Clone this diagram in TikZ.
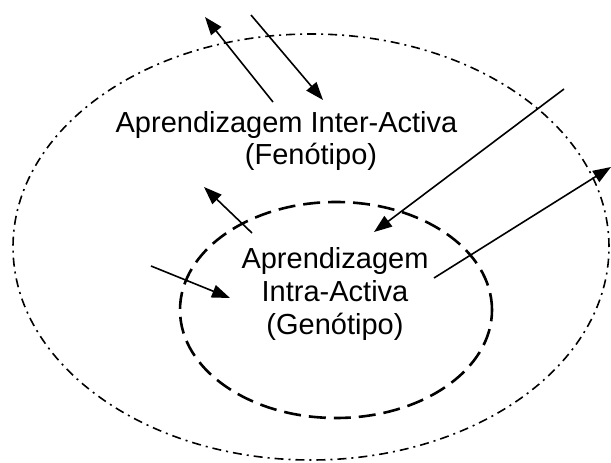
\documentclass[tikz,border=0pt]{standalone}
\usepackage{fontspec}
\setmainfont{Liberation Sans}
\usetikzlibrary{arrows.meta}
\begin{document}
\begin{tikzpicture}[x=1pt,y=-1pt,
        seta/.style={-{Triangle[length=18pt,width=13pt]}, line width=1.6pt},
        rotulo/.style={anchor=base, inner sep=0pt, font=\fontsize{29}{33}\selectfont}]
    \useasboundingbox (0,0) rectangle (611,463);
    % ellipses
    \draw [line width=1.6pt, dash pattern=on 9pt off 5pt on 2pt off 5pt] (311,247) ellipse [x radius=298pt, y radius=213pt];
    \draw [line width=2.6pt, dash pattern=on 17pt off 8pt] (336,310) ellipse [x radius=156pt, y radius=108pt];
    % texts
    \node (inter) [rotulo] at (286.5,132) {Aprendizagem Inter-Activa};
    \node (feno) [rotulo] at (311,164) {(Fenótipo)};
    \node (intraA) [rotulo] at (335,268) {Aprendizagem};
    \node (intraB) [rotulo] at (335,301) {Intra-Activa};
    \node (geno) [rotulo] at (335,334) {(Genótipo)};
    % arrow ends
    \coordinate (sobeA) at (273,102);  \coordinate (sobeB) at (205,17);
    \coordinate (desceA) at (251,15);  \coordinate (desceB) at (323,100);
    \coordinate (entraA) at (564,89);  \coordinate (entraB) at (374,232);
    \coordinate (saiA) at (434,278);   \coordinate (saiB) at (611,167);
    \coordinate (subA) at (252,233);   \coordinate (subB) at (204,187);
    \coordinate (dentroA) at (151,266); \coordinate (dentroB) at (230,298);
    % arrows
    \draw [seta] (sobeA) -- (sobeB);
    \draw [seta] (desceA) -- (desceB);
    \draw [seta] (entraA) -- (entraB);
    \draw [seta] (saiA) -- (saiB);
    \draw [seta] (subA) -- (subB);
    \draw [seta] (dentroA) -- (dentroB);
\end{tikzpicture}
\end{document}
